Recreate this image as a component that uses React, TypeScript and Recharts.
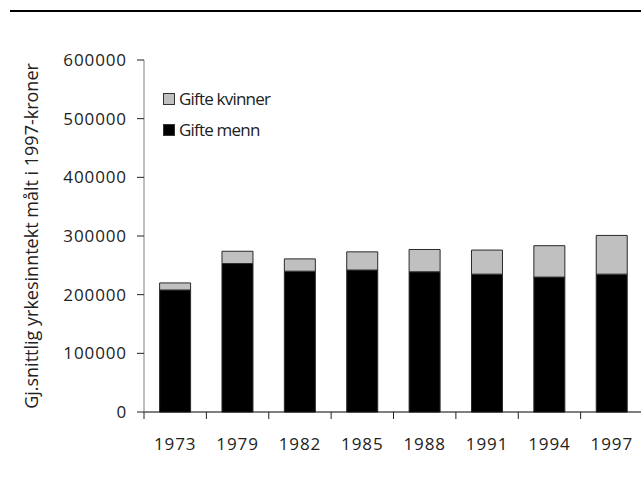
import { Bar, BarChart, XAxis, YAxis } from "recharts";

const years = ["1973", "1979", "1982", "1985", "1988", "1991", "1994", "1997"];
const gifteMenn = [208000, 253000, 240000, 242000, 239000, 235000, 230000, 235000];
const gifteKvinner = [12000, 21000, 21000, 31000, 38000, 41000, 53500, 66000];
const yTicks = [0, 100000, 200000, 300000, 400000, 500000, 600000];

const rows = years.map((year, i) => ({
  year,
  menn: gifteMenn[i],
  kvinner: gifteKvinner[i],
}));

const font = "'Open Sans', 'Noto Sans', sans-serif";
const textColor = "#222";
const halfBand = 499 / years.length / 2;

function YearTick({ x, y, payload }: { x: number; y: number; payload: { value: string } }) {
  return (
    <g>
      <line x1={x - halfBand} x2={x - halfBand} y1={y} y2={y + 7} stroke="#222" />
      <text
        x={x}
        y={y + 38}
        textAnchor="middle"
        fill={textColor}
        fontSize={17}
        letterSpacing={0.9}
        fontFamily={font}
      >
        {payload.value}
      </text>
    </g>
  );
}

function LegendBox() {
  const items = [
    { label: "Gifte kvinner", color: "#c0c0c0" },
    { label: "Gifte menn", color: "#000000" },
  ];
  return (
    <div
      style={{
        position: "absolute",
        left: 163,
        top: 83,
        fontFamily: font,
        fontSize: 17,
        letterSpacing: -0.8,
        color: textColor,
      }}
    >
      {items.map((item) => (
        <div key={item.label} style={{ display: "flex", alignItems: "center", height: 31 }}>
          <span
            style={{
              display: "inline-block",
              width: 10,
              height: 10,
              background: item.color,
              border: "1px solid #333",
              marginRight: 4,
            }}
          />
          <span>{item.label}</span>
        </div>
      ))}
    </div>
  );
}

export default function App() {
  return (
    <div
      style={{
        position: "absolute",
        left: 0,
        top: 0,
        width: 641,
        height: 483,
        overflow: "hidden",
        background: "#fff",
      }}
    >
      <div style={{ position: "absolute", left: 10, top: 10, width: 631, height: 2, background: "#000" }} />
      <BarChart
        width={650}
        height={483}
        data={rows}
        margin={{ top: 60, right: 7, bottom: 41, left: 64 }}
        barCategoryGap="25%"
      >
        <XAxis
          dataKey="year"
          axisLine={{ stroke: "#000" }}
          tickLine={false}
          tickSize={0}
          tickMargin={0}
          tick={YearTick}
          interval={0}
          height={30}
        />
        <YAxis
          domain={[0, 600000]}
          ticks={yTicks}
          interval={0}
          width={80}
          tickSize={7}
          tickMargin={10}
          axisLine={{ stroke: "#808080" }}
          tickLine={{ stroke: "#222" }}
          tick={{ fill: textColor, fontSize: 17, fontFamily: font, letterSpacing: 0.9 }}
          label={{
            content: () => (
              <text
                x={31}
                y={236}
                transform="rotate(-90 31 236)"
                textAnchor="middle"
                dominantBaseline="central"
                fill={textColor}
                fontSize={18}
                fontFamily={font}
              >
                Gj.snittlig yrkesinntekt målt i 1997-kroner
              </text>
            ),
          }}
        />
        <Bar dataKey="menn" stackId="a" fill="#000000" stroke="#2a2a2a" strokeWidth={1} isAnimationActive={false} />
        <Bar dataKey="kvinner" stackId="a" fill="#c0c0c0" stroke="#2a2a2a" strokeWidth={1} isAnimationActive={false} />
      </BarChart>
      <LegendBox />
    </div>
  );
}
